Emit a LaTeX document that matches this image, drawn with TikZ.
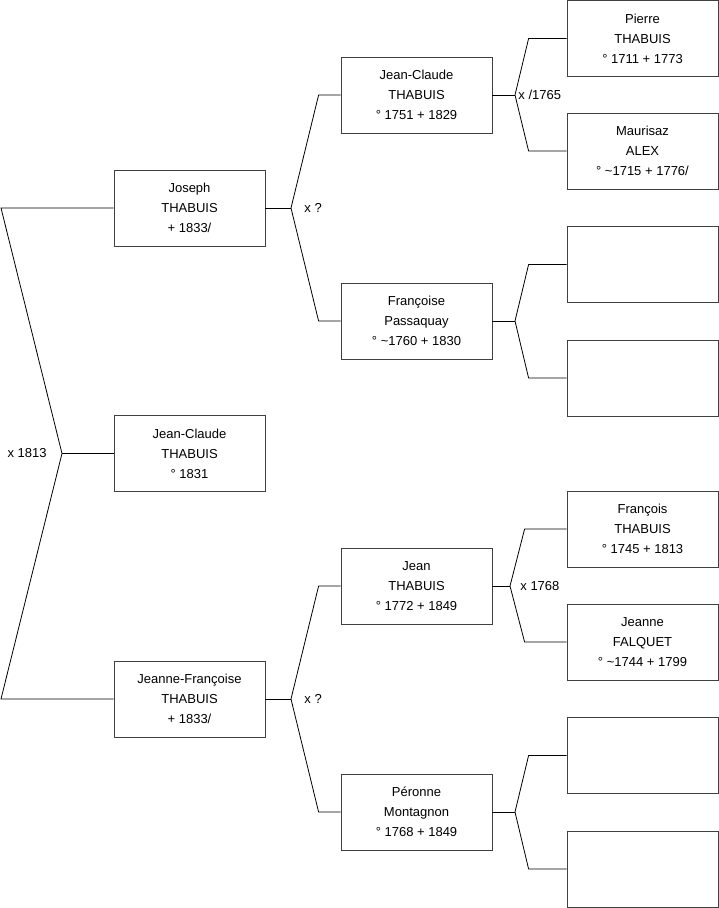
\documentclass[tikz,border=0pt]{standalone}
\usepackage{fontspec}
\setmainfont{Liberation Sans}
\begin{document}
\begin{tikzpicture}[x=1pt, y=-1pt, line width=0.8pt,
    every node/.style={font=\fontsize{13}{20}\selectfont, align=center},
    person/.style={draw=black!75, minimum width=151pt, minimum height=76pt, inner sep=0pt},
    mariage/.style={inner sep=0pt}]
  \useasboundingbox (0,0) rectangle (719,908);

  % Left column (children)
  \node[person] (joseph) at (189.5,208) {Joseph\\THABUIS\\+ 1833/};
  \node[person] (jc1831) at (189.5,453.5) {Jean-Claude\\THABUIS\\° 1831};
  \node[person] (jeannef) at (189.5,699) {Jeanne-Françoise\\THABUIS\\+ 1833/};

  % Middle column (parents)
  \node[person] (jcl) at (416.5,95) {Jean-Claude\\THABUIS\\° 1751 + 1829};
  \node[person] (francoise) at (416.5,321) {Françoise\\Passaquay\\° \textasciitilde1760 + 1830};
  \node[person] (jean) at (416.5,586) {Jean\\THABUIS\\° 1772 + 1849};
  \node[person] (peronne) at (416.5,812) {Péronne\\Montagnon\\° 1768 + 1849};

  % Right column (grand-parents)
  \node[person] (pierre) at (642.5,38.5) {Pierre\\THABUIS\\° 1711 + 1773};
  \node[person] (maurisaz) at (642.5,151) {Maurisaz\\ALEX\\° \textasciitilde1715 + 1776/};
  \node[person] (vide1) at (642.5,264.5) {};
  \node[person] (vide2) at (642.5,378) {};
  \node[person] (francois) at (642.5,529) {François\\THABUIS\\° 1745 + 1813};
  \node[person] (jeanne) at (642.5,642) {Jeanne\\FALQUET\\° \textasciitilde1744 + 1799};
  \node[person] (vide3) at (642.5,755.5) {};
  \node[person] (vide4) at (642.5,869) {};

  % Couple Joseph x Jeanne-Françoise
  \coordinate (v0) at (62,453.5);
  \coordinate (h0) at (1,208);
  \coordinate (b0) at (1,699);
  \draw (joseph.west) -- (h0) -- (v0) -- (b0) -- (jeannef.west);
  \draw (jc1831.west) -- (v0);
  \node[mariage, anchor=east] (m0) at (47,453.5) {x 1813};

  % Parents of Joseph
  \coordinate (v1) at (291,208);
  \draw (jcl.west) -- ++(-22,0) -- (v1) -- ([xshift=-22pt]francoise.west) -- (francoise.west);
  \draw (joseph.east) -- (v1);
  \node[mariage, anchor=west] (m1) at (304,208) {x ?};

  % Parents of Jeanne-Françoise
  \coordinate (v6) at (291,699);
  \draw (jean.west) -- ++(-22,0) -- (v6) -- ([xshift=-22pt]peronne.west) -- (peronne.west);
  \draw (jeannef.east) -- (v6);
  \node[mariage, anchor=west] (m6) at (304,699) {x ?};

  % Parents of Jean-Claude
  \coordinate (v2) at (515,95);
  \draw (pierre.west) -- ++(-38,0) -- (v2) -- ([xshift=-38pt]maurisaz.west) -- (maurisaz.west);
  \draw (jcl.east) -- (v2);
  \node[mariage, anchor=west] (m2) at (518,95) {x /1765};

  % Parents of Françoise
  \coordinate (v3) at (515,321);
  \draw (vide1.west) -- ++(-38,0) -- (v3) -- ([xshift=-38pt]vide2.west) -- (vide2.west);
  \draw (francoise.east) -- (v3);

  % Parents of Jean
  \coordinate (v4) at (510,586);
  \draw (francois.west) -- ++(-42,0) -- (v4) -- ([xshift=-42pt]jeanne.west) -- (jeanne.west);
  \draw (jean.east) -- (v4);
  \node[mariage, anchor=west] (m4) at (520,586) {x 1768};

  % Parents of Péronne
  \coordinate (v5) at (515,812);
  \draw (vide3.west) -- ++(-38,0) -- (v5) -- ([xshift=-38pt]vide4.west) -- (vide4.west);
  \draw (peronne.east) -- (v5);
\end{tikzpicture}
\end{document}
